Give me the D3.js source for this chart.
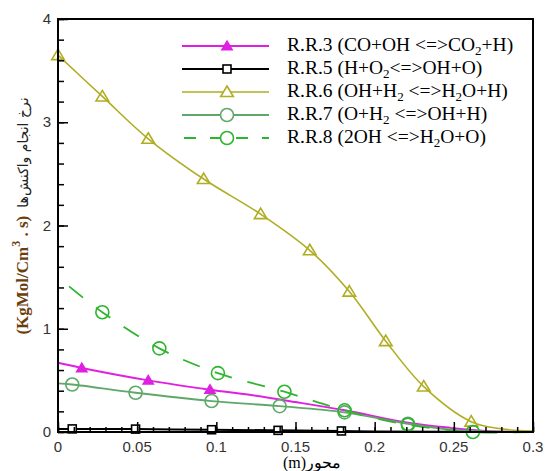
<!DOCTYPE html>
<html>
<head>
<meta charset="utf-8">
<script src="https://cdn.jsdelivr.net/npm/d3@7"></script>
<style>
  body { margin: 0; background: #fff; }
  svg { display: block; }
  .serif { font-family: "Liberation Serif", "Times New Roman", "DejaVu Serif", serif; }
</style>
</head>
<body>
<div id="graph"></div>
<script>
// series values: [x (m), rate]
var rr3 = [[0,0.67],[0.015,0.62],[0.057,0.50],[0.096,0.41],[0.121,0.36],[0.15,0.29],[0.181,0.21],[0.221,0.09],[0.248,0.04],[0.27,0.01],[0.3,0]];
var rr3Marks = [0.015,0.057,0.096];
var rr5 = [[0,0.03],[0.009,0.03],[0.049,0.028],[0.097,0.022],[0.139,0.016],[0.179,0.01],[0.2,0.005],[0.3,0]];
var rr5Marks = [0.009,0.049,0.097,0.139,0.179];
var rr6 = [[0,3.65],[0.028,3.25],[0.057,2.84],[0.092,2.45],[0.128,2.11],[0.159,1.76],[0.184,1.36],[0.207,0.88],[0.231,0.44],[0.261,0.10],[0.28,0.03],[0.3,0.01]];
var rr6Marks = [0,0.028,0.057,0.092,0.128,0.159,0.184,0.207,0.231,0.261];
var rr7 = [[0,0.47],[0.009,0.46],[0.049,0.38],[0.097,0.30],[0.140,0.25],[0.181,0.19],[0.221,0.08],[0.25,0.02],[0.3,0]];
var rr7Marks = [0.009,0.049,0.097,0.140,0.181,0.221];
var rr8 = [[0.007,1.41],[0.028,1.16],[0.064,0.81],[0.101,0.57],[0.143,0.39],[0.181,0.21],[0.221,0.07],[0.262,0.0],[0.3,0]];
var rr8Marks = [0.028,0.064,0.101,0.143,0.181,0.221,0.262];

var legendLabels = ["R.R.3 (CO+OH <=>CO_2+H)", "R.R.5 (H+O_2<=>OH+O)", "R.R.6 (OH+H_2 <=>H_2O+H)", "R.R.7 (O+H_2 <=>OH+H)", "R.R.8 (2OH <=>H_2O+O)"];
var xTicks = [0, 0.05, 0.1, 0.15, 0.2, 0.25, 0.3];
var yTicks = [0, 1, 2, 3, 4];
var xLabel = "(m)محور";
var yLabelUnit = "(KgMol/Cm";
var yLabelFa = "نرخ انجام واکنش‌ها";

var series = [
  {data: rr3, marks: rr3Marks, color: "#e020e0", sym: "tri", fill: true, w: 2, size: 4.8},
  {data: rr5, marks: rr5Marks, color: "#000", sym: "sq", fill: false, w: 2, size: 5},
  {data: rr6, marks: rr6Marks, color: "#b0ad22", sym: "tri", fill: false, w: 1.6, size: 6},
  {data: rr7, marks: rr7Marks, color: "#5fa869", sym: "circ", fill: false, w: 1.8, size: 6.5},
  {data: rr8, marks: rr8Marks, color: "#2db52d", sym: "circ", fill: false, w: 1.8, size: 6.5, dash: "18,16"}
];

var W = 545, H = 471;
var pLeft = 58, pRight = 533, pTop = 19, pBottom = 432;

var x = d3.scaleLinear().domain([0, 0.3]).range([pLeft, pRight]);
var y = d3.scaleLinear().domain([0, 4]).range([pBottom, pTop]);

var svg = d3.select("#graph").append("svg")
  .attr("width", W).attr("height", H);

var plot = svg.append("g");

// minor and major ticks, inward
svg.append("g").attr("transform", "translate(0," + pBottom + ")")
  .call(d3.axisTop(x).tickValues(d3.range(0, 0.301, 0.01)).tickSize(5).tickFormat(""))
  .call(g => g.select(".domain").remove());
svg.append("g").attr("transform", "translate(0," + pBottom + ")")
  .call(d3.axisTop(x).tickValues(xTicks).tickSize(10).tickFormat(""))
  .call(g => g.select(".domain").remove());
svg.append("g").attr("transform", "translate(" + pLeft + ",0)")
  .call(d3.axisRight(y).tickValues(d3.range(0, 4.01, 0.2)).tickSize(6).tickFormat(""))
  .call(g => g.select(".domain").remove());
svg.append("g").attr("transform", "translate(" + pLeft + ",0)")
  .call(d3.axisRight(y).tickValues(yTicks).tickSize(10).tickFormat(""))
  .call(g => g.select(".domain").remove());
svg.selectAll(".tick line").attr("stroke", "#000").attr("stroke-width", 1.5);

// tick labels
svg.append("g").selectAll("text").data(xTicks).enter().append("text")
  .attr("x", d => x(d)).attr("y", 452)
  .attr("text-anchor", "middle")
  .style("font-family", "'Liberation Sans', sans-serif").style("font-size", "15px").attr("fill", "#333")
  .text(d => d === 0 ? "0" : String(d));
svg.append("g").selectAll("text").data(yTicks).enter().append("text")
  .attr("x", 51).attr("y", d => y(d) + 5)
  .attr("text-anchor", "end")
  .style("font-family", "'Liberation Sans', sans-serif").style("font-size", "15px").attr("fill", "#333")
  .text(d => d);

// lines
var line = d3.line().x(d => x(d[0])).y(d => y(d[1])).curve(d3.curveCatmullRom);

function marker(g, sym, s, color, fill) {
  if (sym === "tri") {
    g.append("path").attr("d", "M0," + (-s) + "L" + (s * 1.05) + "," + (s * 0.75) + "L" + (-s * 1.05) + "," + (s * 0.75) + "Z");
  } else if (sym === "sq") {
    g.append("rect").attr("x", -s * 0.8).attr("y", -s * 0.8).attr("width", s * 1.6).attr("height", s * 1.6);
  } else {
    g.append("circle").attr("r", s);
  }
  g.selectAll("*").attr("fill", fill ? color : "#fff").attr("stroke", color).attr("stroke-width", 1.6);
}

series.forEach(function(s) {
  plot.append("path")
    .attr("d", line(s.data))
    .attr("fill", "none")
    .attr("stroke", s.color)
    .attr("stroke-width", s.w)
    .attr("stroke-dasharray", s.dash || null);
});

series.forEach(function(s) {
  var yAt = function(xv) {
    var p = s.data.find(d => Math.abs(d[0] - xv) < 1e-9);
    return p[1];
  };
  s.marks.forEach(function(xv) {
    var g = plot.append("g").attr("transform", "translate(" + x(xv) + "," + y(yAt(xv)) + ")");
    var gg = g.append("g");
    marker(gg, s.sym, s.size, s.color, s.fill);
    if (s.sym === "circ" || (s.sym === "tri" && !s.fill)) gg.selectAll("*").attr("fill", "none");
  });
});

// frame
svg.append("rect").attr("x", pLeft).attr("y", pTop).attr("width", pRight - pLeft).attr("height", pBottom - pTop)
  .attr("fill", "none").attr("stroke", "#000").attr("stroke-width", 2);

// legend
var leg = svg.append("g");
series.forEach(function(s, i) {
  var ly = 46 + i * 23;
  leg.append("line").attr("x1", 182).attr("x2", 269).attr("y1", ly).attr("y2", ly)
    .attr("stroke", s.color).attr("stroke-width", s.w).attr("stroke-dasharray", s.dash ? "12,14" : null)
    .attr("stroke-dashoffset", s.dash ? -2 : null);
  var g = leg.append("g").attr("transform", "translate(227," + ly + ")");
  var gg = g.append("g");
  marker(gg, s.sym, s.size, s.color, s.fill);

  var t = leg.append("text").attr("class", "serif").attr("x", 287).attr("y", ly + 5)
    .style("font-size", "19.5px").attr("fill", "#000");
  var parts = legendLabels[i].split(/_(\d)/);
  parts.forEach(function(p, j) {
    if (j % 2 === 1) {
      t.append("tspan").attr("dy", 4).style("font-size", "13px").text(p);
    } else if (p.length) {
      t.append("tspan").attr("dy", j > 0 ? -4 : 0).text(p);
    }
  });
});

// axis titles
svg.append("text").attr("class", "serif").attr("x", 312).attr("y", 468).attr("text-anchor", "middle")
  .style("font-size", "16px").attr("fill", "#000")
  .text(xLabel);

var yl = svg.append("text").attr("class", "serif").attr("transform", "translate(28,216) rotate(-90)")
  .attr("text-anchor", "middle")
  .attr("fill", "#6b3d0c");
yl.append("tspan").style("font-size", "17px").style("font-weight", "bold").text(yLabelUnit);
yl.append("tspan").attr("dy", -8).style("font-size", "12px").style("font-weight", "bold").text("3");
yl.append("tspan").attr("dy", 8).style("font-size", "17px").style("font-weight", "bold").text(" . s)");
yl.append("tspan").style("font-size", "14px").attr("dx", 8).attr("fill", "#222")
  .style("font-family", "'DejaVu Sans', sans-serif").text(yLabelFa);
</script>
</body>
</html>
